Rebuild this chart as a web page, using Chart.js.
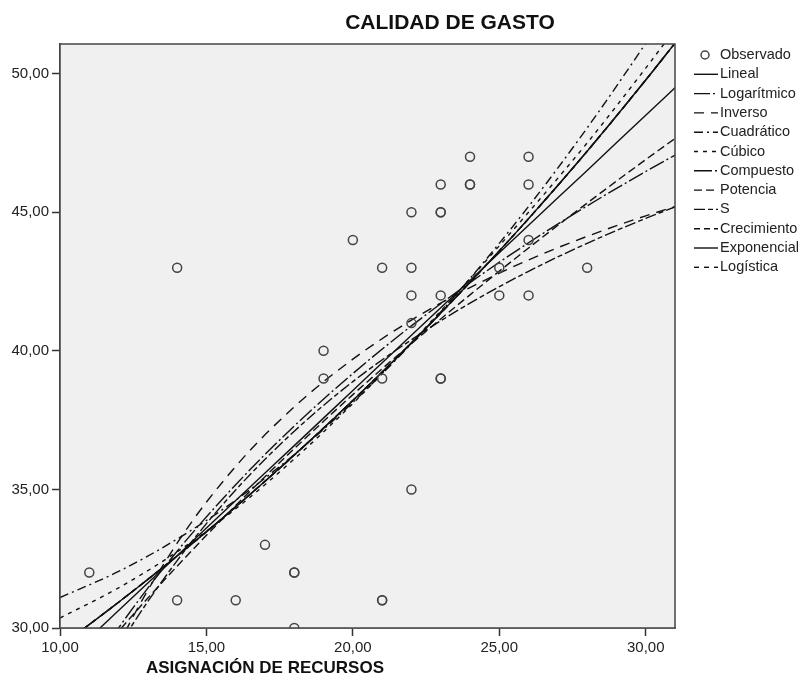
<!DOCTYPE html>
<html>
<head>
<meta charset="utf-8">
<script src="https://cdn.jsdelivr.net/npm/chart.js@4.4.1/dist/chart.umd.min.js"></script>
<style>
    html, body { margin: 0; padding: 0; background: #fff; }
</style>
</head>
<body>
<canvas id="curveChart" width="804" height="688"></canvas>
<script>
// observed values (ASIGNACIÓN DE RECURSOS vs CALIDAD DE GASTO)
const obsX = [11, 14, 14, 16, 17, 18, 18, 18, 19, 19, 20, 21, 21, 21, 21, 22, 22, 22, 22, 22, 23, 23, 23, 23, 23, 23, 24, 24, 24, 25, 25, 26, 26, 26, 26, 28];
const obsY = [32, 43, 31, 31, 33, 32, 32, 30, 40, 39, 44, 43, 39, 31, 31, 45, 43, 42, 41, 35, 46, 45, 45, 42, 39, 39, 47, 46, 46, 43, 42, 47, 46, 44, 42, 43];

// fitted curves at these x positions
const curveX = [10, 12, 14, 16, 18, 20, 22, 24, 26, 28, 30, 31];
const lineal = [28.64, 30.63, 32.61, 34.60, 36.58, 38.57, 40.56, 42.54, 44.53, 46.51, 48.50, 49.49];
const logaritmico = [26.72, 30.00, 32.77, 35.17, 37.29, 39.18, 40.90, 42.46, 43.90, 45.23, 46.47, 47.06];
const inverso = [24.20, 29.37, 33.06, 35.83, 37.98, 39.70, 41.11, 42.28, 43.28, 44.13, 44.87, 45.20];
const cuadratico = [31.10, 32.04, 33.21, 34.61, 36.26, 38.14, 40.26, 42.61, 45.21, 48.04, 51.10, 52.73];
const cubico = [30.36, 31.45, 32.75, 34.30, 36.10, 38.10, 40.30, 42.60, 45.00, 47.50, 50.20, 51.60];
const exponencial = [29.33, 30.93, 32.60, 34.37, 36.24, 38.21, 40.28, 42.47, 44.77, 47.20, 49.77, 51.10];
const potencia = [27.30, 29.88, 32.23, 34.42, 36.47, 38.42, 40.26, 42.02, 43.71, 45.33, 46.90, 47.66];
const curvaS = [25.46, 29.32, 32.43, 34.98, 37.10, 38.89, 40.40, 41.72, 42.87, 43.88, 44.78, 45.19];
// compuesto, crecimiento and logistica sit on the exponential curve
const compuesto = exponencial;
const crecimiento = exponencial;
const logistica = exponencial;

const xTicks = [10, 15, 20, 25, 30];
const yTicks = [30, 35, 40, 45, 50];

Chart.defaults.font.family = "'Liberation Sans', Arial, sans-serif";
Chart.defaults.color = "#222";

function toPoints(ys) {
    return curveX.map((x, i) => ({ x: x, y: ys[i] }));
}

function curve(label, ys, dash, width) {
    return {
        type: "line",
        label: label,
        data: toPoints(ys),
        borderColor: "#111",
        borderWidth: width || 1.4,
        borderDash: dash,
        pointRadius: 0,
        pointHoverRadius: 0,
        fill: false,
        cubicInterpolationMode: "monotone"
    };
}

function fmt(v) {
    return v.toFixed(2).replace(".", ",");
}

// plot background, frame, titles, legend
const decor = {
    id: "decor",
    beforeDatasetsDraw(chart) {
        const a = chart.chartArea;
        const ctx = chart.ctx;
        ctx.save();
        ctx.fillStyle = "#f0f0f0";
        ctx.fillRect(a.left, a.top, a.right - a.left, a.bottom - a.top);
        ctx.restore();
    },
    afterDraw(chart) {
        const a = chart.chartArea;
        const ctx = chart.ctx;
        ctx.save();
        ctx.strokeStyle = "#444";
        ctx.lineWidth = 1.5;
        ctx.strokeRect(a.left, a.top, a.right - a.left, a.bottom - a.top);

        ctx.fillStyle = "#111";
        ctx.textAlign = "center";
        ctx.textBaseline = "middle";
        ctx.font = "bold 21px 'Liberation Sans', Arial, sans-serif";
        ctx.fillText("CALIDAD DE GASTO", 450, 23);
        ctx.font = "bold 17px 'Liberation Sans', Arial, sans-serif";
        ctx.fillText("ASIGNACIÓN DE RECURSOS", 265, 668);

        // legend
        ctx.font = "14.5px 'Liberation Sans', Arial, sans-serif";
        ctx.textAlign = "left";
        chart.data.datasets.forEach((ds, i) => {
            const y = 55 + i * 19.3;
            ctx.strokeStyle = ds.borderColor;
            if (ds.type === "scatter") {
                ctx.setLineDash([]);
                ctx.lineWidth = 1.5;
                ctx.beginPath();
                ctx.arc(705, y, 4, 0, Math.PI * 2);
                ctx.stroke();
            } else {
                ctx.setLineDash(ds.borderDash || []);
                ctx.lineWidth = ds.borderWidth;
                ctx.beginPath();
                ctx.moveTo(694, y);
                ctx.lineTo(718, y);
                ctx.stroke();
            }
            ctx.fillStyle = "#222";
            ctx.fillText(ds.label, 720, y);
        });
        ctx.restore();
    }
};

new Chart("curveChart", {
    type: "scatter",
    data: {
        datasets: [
            {
                type: "scatter",
                label: "Observado",
                data: obsX.map((x, i) => ({ x: x, y: obsY[i] })),
                borderColor: "#444",
                backgroundColor: "rgba(0,0,0,0)",
                pointRadius: 4.5,
                pointBorderWidth: 1.5,
                pointHoverRadius: 4.5
            },
            curve("Lineal", lineal, [], 1.4),
            curve("Logarítmico", logaritmico, [16, 3, 2, 3]),
            curve("Inverso", inverso, [10, 7]),
            curve("Cuadrático", cuadratico, [9, 4, 2, 4]),
            curve("Cúbico", cubico, [4, 5]),
            curve("Compuesto", compuesto, [18, 3, 2, 3]),
            curve("Potencia", potencia, [8, 4]),
            curve("S", curvaS, [11, 3, 5, 3]),
            curve("Crecimiento", crecimiento, [6, 4]),
            curve("Exponencial", exponencial, []),
            curve("Logística", logistica, [5, 5])
        ]
    },
    options: {
        responsive: false,
        animation: false,
        layout: { padding: { top: 44, right: 129, left: 0, bottom: 0 } },
        plugins: {
            legend: { display: false },
            title: { display: false },
            tooltip: { enabled: false }
        },
        scales: {
            x: {
                type: "linear",
                min: 10,
                max: 31.0,
                afterBuildTicks: s => { s.ticks = xTicks.map(v => ({ value: v })); },
                afterFit: s => { s.height = 60; },
                grid: { drawOnChartArea: false, drawTicks: true, tickLength: 8, tickColor: "#333", tickWidth: 1.5 },
                border: { display: true, color: "#444", width: 1.5 },
                ticks: { font: { size: 15 }, color: "#222", padding: 3, maxRotation: 0, callback: v => fmt(v) }
            },
            y: {
                type: "linear",
                min: 30,
                max: 51.07,
                afterBuildTicks: s => { s.ticks = yTicks.map(v => ({ value: v })); },
                afterFit: s => { s.width = 60; },
                grid: { drawOnChartArea: false, drawTicks: true, tickLength: 8, tickColor: "#333", tickWidth: 1.5 },
                border: { display: true, color: "#444", width: 1.5 },
                ticks: { font: { size: 15 }, color: "#222", padding: 3, callback: v => fmt(v) }
            }
        }
    },
    plugins: [decor]
});
</script>
</body>
</html>
